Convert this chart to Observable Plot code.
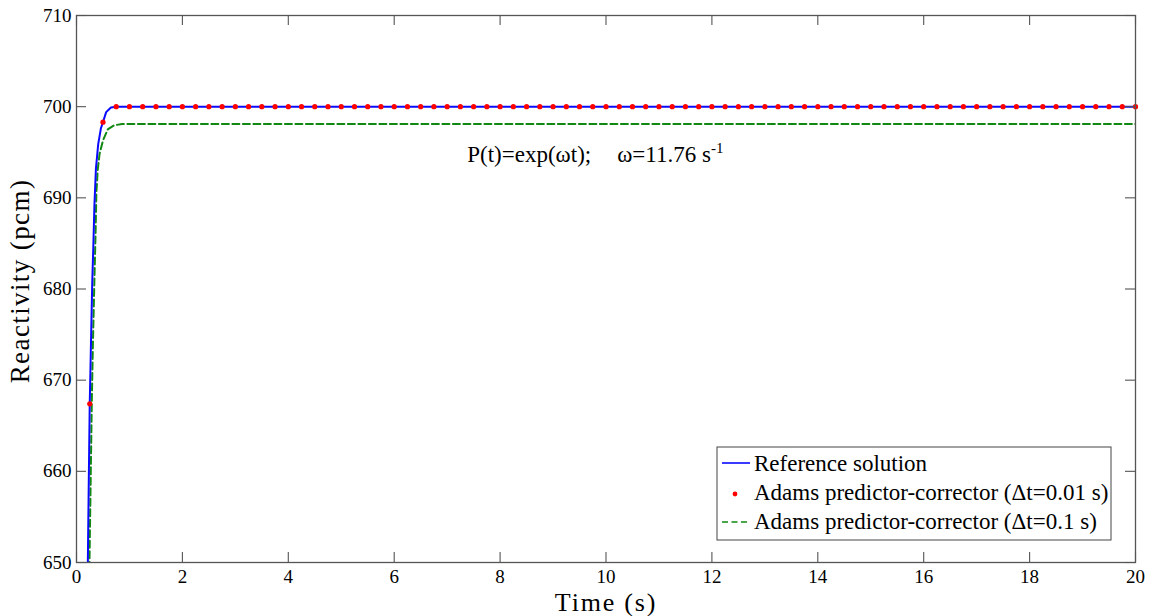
<!DOCTYPE html>
<html><head><meta charset="utf-8">
<script src="https://cdn.jsdelivr.net/npm/d3@7"></script>
<script src="https://cdn.jsdelivr.net/npm/@observablehq/plot@0.6"></script>
<style>html,body{margin:0;padding:0;background:#fff}
svg text{font-family:'Liberation Serif','Times New Roman',serif;}</style>
</head><body><div id="chart"></div>
<script>
// Reference solution
const refT = [0.205,0.214,0.232,0.25,0.275,0.297,0.317,0.339,0.367,0.41,0.46,0.5,0.56,0.65,0.75,20];
const refV = [647,650,659,667.4,674.5,680.6,684.5,689.3,693.2,695.9,697.6,698.3,699.4,699.9,700,700];
// Adams predictor-corrector, dt = 0.01 s (markers)
const dotT = [0.25,0.5,0.75,1,1.25,1.5,1.75,2,2.25,2.5,
  2.75,3,3.25,3.5,3.75,4,4.25,4.5,4.75,5,
  5.25,5.5,5.75,6,6.25,6.5,6.75,7,7.25,7.5,
  7.75,8,8.25,8.5,8.75,9,9.25,9.5,9.75,10,
  10.25,10.5,10.75,11,11.25,11.5,11.75,12,12.25,12.5,
  12.75,13,13.25,13.5,13.75,14,14.25,14.5,14.75,15,
  15.25,15.5,15.75,16,16.25,16.5,16.75,17,17.25,17.5,
  17.75,18,18.25,18.5,18.75,19,19.25,19.5,19.75,20];
const dotV = [667.4,698.3,700,700,700,700,700,700,700,700,
  700,700,700,700,700,700,700,700,700,700,
  700,700,700,700,700,700,700,700,700,700,
  700,700,700,700,700,700,700,700,700,700,
  700,700,700,700,700,700,700,700,700,700,
  700,700,700,700,700,700,700,700,700,700,
  700,700,700,700,700,700,700,700,700,700,
  700,700,700,700,700,700,700,700,700,700];
// Adams predictor-corrector, dt = 0.1 s (dashed)
const coarseT = [0.235,0.245,0.27,0.29,0.31,0.34,0.36,0.375,0.40,0.435,0.50,0.59,0.71,0.86,20];
const coarseV = [647,650,660,668,674,681.5,686,690.5,693,694.8,696.3,697.5,697.95,698.1,698.1];

const xTicks = [0,2,4,6,8,10,12,14,16,18,20];
const yTicks = [650,660,670,680,690,700,710];
const seriesNames = ["Reference solution","Adams predictor-corrector (\u0394t=0.01 s)","Adams predictor-corrector (\u0394t=0.1 s)"];
const xLabel = "Time (s)";
const yLabel = "Reactivity (pcm)";
const annotation = [{x:7.38, y:693.9, main:"P(t)=exp(\u03c9t);", second:"\u03c9=11.76 s", sup:"-1"}];

const ref = refT.map((t,i)=>({t, v:refV[i]}));
const dots = dotT.map((t,i)=>({t, v:dotV[i]}));
const coarse = coarseT.map((t,i)=>({t, v:coarseV[i]}));

const C_BLUE = "#0a0aff", C_RED = "#ff0000", C_GREEN = "#118811", C_AXIS = "#555";
const FONT = "'Liberation Serif','Times New Roman',serif";

const plot = Plot.plot({
  width:1149, height:616,
  marginLeft:76, marginRight:14, marginTop:15, marginBottom:54,
  x:{domain:[0,20]}, y:{domain:[650,710]},
  style:{fontFamily:FONT, background:"#fff", color:"#000", overflow:"visible"},
  marks:[
    Plot.axisX(xTicks,{tickSize:0, tickPadding:7, fontSize:19, fontFamily:FONT, label:null}),
    Plot.axisY(yTicks,{tickSize:0, tickPadding:5, fontSize:19, fontFamily:FONT, label:null}),
    Plot.line(coarse,{x:"t", y:"v", stroke:C_GREEN, strokeWidth:2, strokeDasharray:"7,3.5", clip:true}),
    Plot.line(ref,{x:"t", y:"v", stroke:C_BLUE, strokeWidth:2, clip:true}),
    Plot.dot(dots,{x:"t", y:"v", r:2.6, fill:C_RED, stroke:"none"}),
    Plot.tickX(xTicks,{x:d=>d, insetTop:537, stroke:C_AXIS, strokeWidth:1.1}),
    Plot.tickX(xTicks,{x:d=>d, insetBottom:537, stroke:C_AXIS, strokeWidth:1.1}),
    Plot.tickY(yTicks,{y:d=>d, insetRight:1049, stroke:C_AXIS, strokeWidth:1.1}),
    Plot.tickY(yTicks,{y:d=>d, insetLeft:1049, stroke:C_AXIS, strokeWidth:1.1}),
    Plot.frame({stroke:C_AXIS, strokeWidth:1.3}),
    Plot.text(annotation,{x:"x", y:"y", text:"main", textAnchor:"start", lineAnchor:"bottom", fontSize:23, fontFamily:FONT}),
    Plot.text([xLabel],{text:d=>d, frameAnchor:"bottom", textAnchor:"middle", lineAnchor:"middle", dy:40, fontSize:26, fontFamily:FONT}),
    Plot.text([yLabel],{text:d=>d, frameAnchor:"left", textAnchor:"middle", lineAnchor:"middle", rotate:-90, dx:-56, dy:-8, fontSize:27, fontFamily:FONT})
  ]
});
document.getElementById("chart").appendChild(plot);

const svg = d3.select(plot);
// letter spacing for axis titles
svg.selectAll("text").filter(function(){return this.textContent===xLabel;}).attr("letter-spacing","1.8px");
svg.selectAll("text").filter(function(){return this.textContent===yLabel;}).attr("letter-spacing","1.4px");
// annotation with superscript
svg.selectAll("text").filter(function(){return this.textContent===annotation[0].main;})
  .each(function(){
    const el = d3.select(this);
    el.append("tspan").attr("dx",26).text(annotation[0].second);
    el.append("tspan").attr("dy",-9).attr("font-size",15).text(annotation[0].sup);
  });

// legend
const lg = svg.append("g").attr("font-family",FONT).attr("font-size",23).attr("text-anchor","start");
lg.append("rect").attr("x",717).attr("y",447).attr("width",394).attr("height",93)
  .attr("fill","#fff").attr("stroke","#444").attr("stroke-width",1);
const rows = [470.7, 500, 529.3];
lg.append("line").attr("x1",722).attr("x2",750).attr("y1",463).attr("y2",463)
  .attr("stroke",C_BLUE).attr("stroke-width",1.6);
lg.append("circle").attr("cx",735).attr("cy",494).attr("r",2.4).attr("fill",C_RED);
lg.append("line").attr("x1",722).attr("x2",750).attr("y1",522).attr("y2",522)
  .attr("stroke",C_GREEN).attr("stroke-width",1.6).attr("stroke-dasharray","6,3.5");
seriesNames.forEach((s,i)=>{
  lg.append("text").attr("x",754).attr("y",rows[i]).attr("fill","#000")
    .attr("text-anchor","start").text(s);
});
</script>
</body></html>
